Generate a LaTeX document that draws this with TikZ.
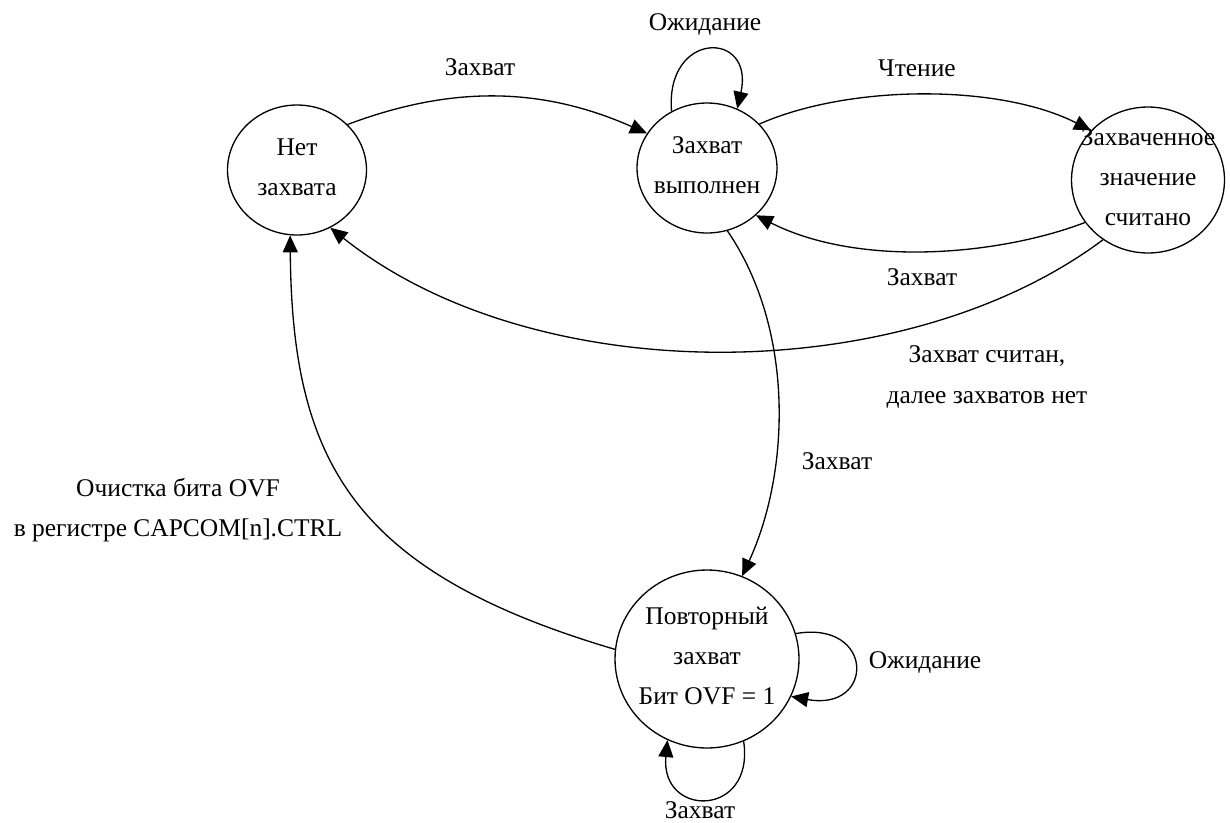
\documentclass[tikz,border=0pt]{standalone}
\usepackage{fontspec}
\setmainfont{Liberation Serif}
\usetikzlibrary{arrows.meta,shapes.geometric}

% text of a state, kept out of the size of the ellipse
\newcommand{\stxt}[1]{\makebox[0pt]{\raisebox{-2pt}[0pt][0pt]{\begin{tabular}{@{}c@{}}#1\end{tabular}}}}

\begin{document}
\begin{tikzpicture}[x=0.02cm, y=0.02cm,
		state/.style={draw=black, ellipse, line width=0.75pt},
		edge/.style={black, line width=0.75pt, -{Triangle[length=0.34cm,width=0.3cm]}}]
		\tikzstyle{every node}+=[inner sep=0pt, align=center, font=\fontsize{14.5}{22.8}\selectfont]
		\useasboundingbox (0,0) rectangle (1230,-822);
		% states
		\node [state, minimum width=2.78cm, minimum height=2.6cm] (none) at (297,-170) {\stxt{Нет\\захвата}};
		\node [state, minimum width=2.8cm, minimum height=2.6cm] (done) at (707,-168) {\stxt{Захват\\выполнен}};
		\node [state, minimum width=3.06cm, minimum height=2.92cm] (read) at (1148,-180) {\stxt{Захваченное\\значение\\считано}};
		\node [state, minimum width=3.68cm, minimum height=3.56cm] (over) at (707,-659) {\stxt{Повторный\\захват\\Бит OVF = 1}};
		% transitions
		\draw [edge] (none.42) .. controls (450,-86) and (540,-86) .. (done.150);
		\draw (480,-67) node (lcap) {Захват};
		\draw [edge] (done.122) .. controls (665,-30) and (755,-30) .. (done.63);
		\draw (705,-25) node (lwaitb) {Ожидание};
		\draw [edge] (done.40) .. controls (850,-84) and (1000,-84) .. (read.139);
		\draw (917,-68) node (lread) {Чтение};
		\draw [edge] (read.214) .. controls (1000,-255) and (860,-268) .. (done.316);
		\draw (922,-277) node (lback) {Захват};
		\draw [edge] (read.233) .. controls (902,-390) and (534,-390) .. (none.300);
		\draw (987,-377) node (lrd) {Захват считан,\\далее захватов нет};
		\draw [edge] (done.288) .. controls (795,-330) and (790,-472) .. (over.67);
		\draw (837,-461) node (lovf) {Захват};
		\draw [edge] (over.16) .. controls (875,-620) and (875,-712) .. (over.-24);
		\draw (925,-663) node (lwaitd) {Ожидание};
		\draw [edge] (over.294) .. controls (755,-818) and (660,-818) .. (over.244);
		\draw (700,-810) node (lself) {Захват};
		\draw [edge] (over.174) .. controls (353,-572) and (292,-462) .. (none.264);
		\draw (178,-510) node (lclr) {Очистка бита OVF\\в регистре CAPCOM[n].CTRL};
	\end{tikzpicture}
\end{document}
